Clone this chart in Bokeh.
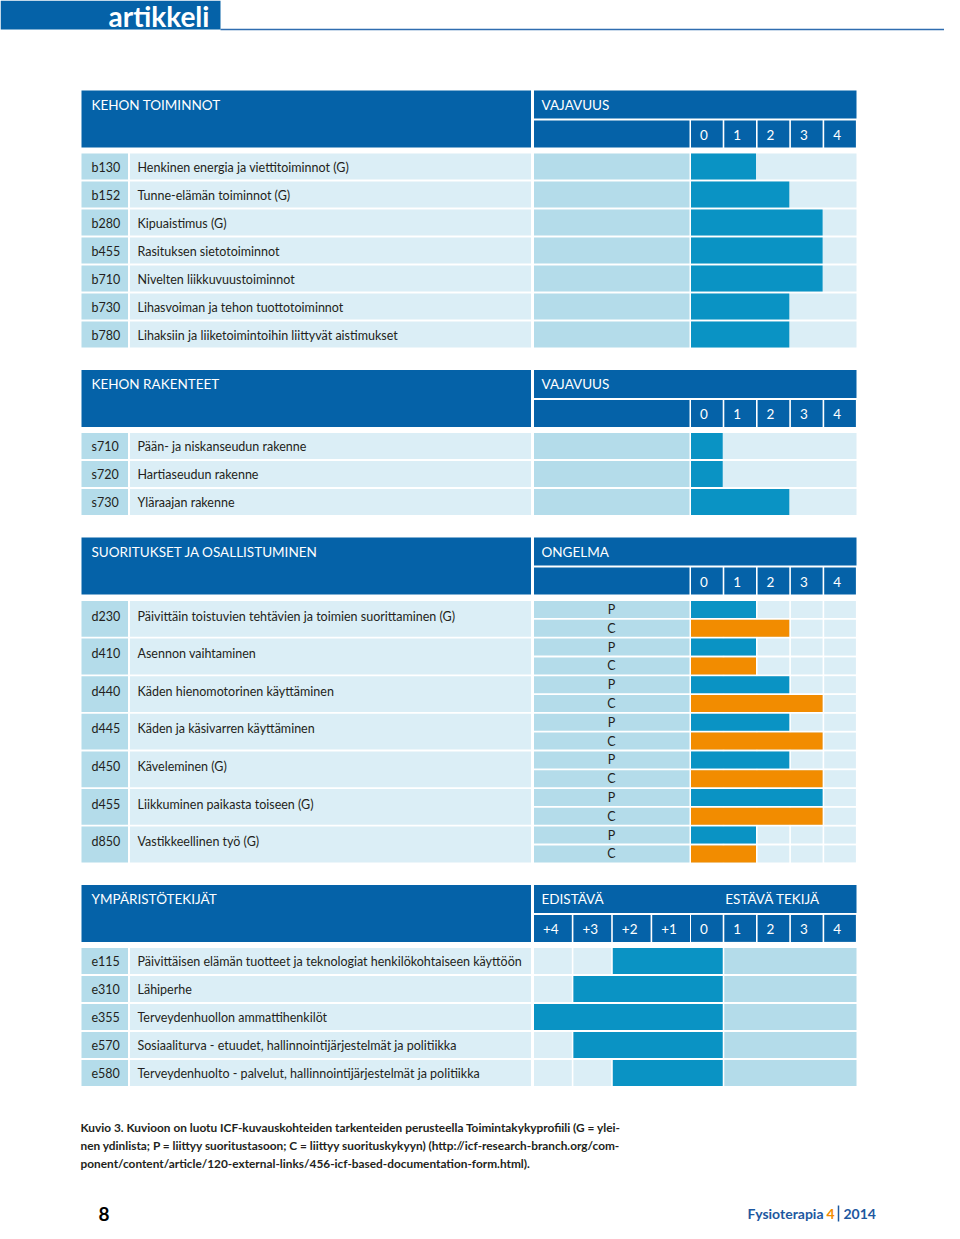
from bokeh.plotting import figure
from bokeh.models import Range1d
from bokeh.core.properties import value
from bokeh.embed import file_html
from bokeh.resources import INLINE

# ---------------- data ----------------
banner_title = "artikkeli"

body_title = "KEHON TOIMINNOT"
body_scale = "VAJAVUUS"
body_codes = ["b130", "b152", "b280", "b455", "b710", "b730", "b780"]
body_labels = [
    "Henkinen energia ja viettitoiminnot (G)",
    "Tunne-elämän toiminnot (G)",
    "Kipuaistimus (G)",
    "Rasituksen sietotoiminnot",
    "Nivelten liikkuvuustoiminnot",
    "Lihasvoiman ja tehon tuottotoiminnot",
    "Lihaksiin ja liiketoimintoihin liittyvät aistimukset",
]
body_values = [1, 2, 3, 3, 3, 2, 2]

struct_title = "KEHON RAKENTEET"
struct_scale = "VAJAVUUS"
struct_codes = ["s710", "s720", "s730"]
struct_labels = [
    "Pään- ja niskanseudun rakenne",
    "Hartiaseudun rakenne",
    "Yläraajan rakenne",
]
struct_values = [0, 0, 2]

act_title = "SUORITUKSET JA OSALLISTUMINEN"
act_scale = "ONGELMA"
act_codes = ["d230", "d410", "d440", "d445", "d450", "d455", "d850"]
act_labels = [
    "Päivittäin toistuvien tehtävien ja toimien suorittaminen (G)",
    "Asennon vaihtaminen",
    "Käden hienomotorinen käyttäminen",
    "Käden ja käsivarren käyttäminen",
    "Käveleminen (G)",
    "Liikkuminen paikasta toiseen (G)",
    "Vastikkeellinen työ (G)",
]
act_perf = [1, 1, 2, 2, 2, 3, 1]   # P
act_cap = [2, 1, 3, 3, 3, 3, 1]    # C
qualifier_letters = ["P", "C"]

env_title = "YMPÄRISTÖTEKIJÄT"
env_scale_left = "EDISTÄVÄ"
env_scale_right = "ESTÄVÄ TEKIJÄ"
env_codes = ["e115", "e310", "e355", "e570", "e580"]
env_labels = [
    "Päivittäisen elämän tuotteet ja teknologiat henkilökohtaiseen käyttöön",
    "Lähiperhe",
    "Terveydenhuollon ammattihenkilöt",
    "Sosiaaliturva - etuudet, hallinnointijärjestelmät ja politiikka",
    "Terveydenhuolto - palvelut, hallinnointijärjestelmät ja politiikka",
]
env_facilitator = [2, 3, 4, 3, 2]

severity_ticks = ["0", "1", "2", "3", "4"]
facilitator_ticks = ["+4", "+3", "+2", "+1"]

caption_lines = [
    "Kuvio 3. Kuvioon on luotu ICF-kuvauskohteiden tarkenteiden perusteella Toimintakykyprofiili (G = ylei-",
    "nen ydinlista; P = liittyy suoritustasoon; C = liittyy suorituskykyyn) (http://icf-research-branch.org/com-",
    "ponent/content/article/120-external-links/456-icf-based-documentation-form.html).",
]
page_number = "8"
journal = "Fysioterapia"
issue = "4"
year = "2014"

# ---------------- styles ----------------
DARK = "#0562a8"
BLUE = "#0a93c4"
ORANGE = "#f28c00"
MED = "#b4dcea"
LIGHT = "#dbeef6"
TXT = "#231f20"
NAVY = "#1d58a0"
FONT = "Lato"

X_CODE0, X_CODE1 = 81, 127.5
X_DESC0, X_DESC1 = 129.5, 530.5
X_MID0, X_MID1 = 533.5, 689
X_BAR0, X_END = 690.5, 856
CELL = 33.3
GAP = 1.6
PLUS = 39.4
ROW = 28
ROWH = 26
SUB = 18.8
SUBH = 17

p = figure(width=944, height=1223, x_range=Range1d(0, 944), y_range=Range1d(1223, 0),
           output_backend="svg", toolbar_location=None, min_border=0,
           x_axis_type=None, y_axis_type=None)
p.grid.visible = False
p.outline_line_color = None
p.background_fill_color = "white"
p.border_fill_color = "white"

rects = {}


def rect(l, r, t, b, color):
    d = rects.setdefault(color, {"left": [], "right": [], "top": [], "bottom": []})
    d["left"].append(l)
    d["right"].append(r)
    d["top"].append(t)
    d["bottom"].append(b)


texts = []


def txt(x, y, s, size="12.5px", color=TXT, style="normal", align="left", font=FONT):
    texts.append((x, y, s, size, color, style, align, font))


def header(top, title, scale_title, plus=False, right_title=None):
    rect(X_CODE0, X_DESC1, top, top + 57, DARK)
    rect(X_MID0, X_END, top, top + 28, DARK)
    txt(91, top + 14, title, "13.5px", "white")
    txt(541, top + 14, scale_title, "13.5px", "white")
    if right_title:
        txt(X_BAR0 + CELL + 1, top + 14, right_title, "13.5px", "white")
    if plus:
        for k, lab in enumerate(facilitator_ticks):
            l = X_MID0 + k * PLUS
            rect(l, l + PLUS - GAP, top + 30, top + 57, DARK)
            txt(l + 9, top + 44, lab, "13.5px", "white")
    else:
        rect(X_MID0, X_MID1, top + 30, top + 57, DARK)
    for k, lab in enumerate(severity_ticks):
        l = X_BAR0 + k * CELL
        rect(l, l + CELL - GAP, top + 30, top + 57, DARK)
        txt(l + 9, top + 44, lab, "13.5px", "white")


def left_cells(t, b, code, label, ytext):
    rect(X_CODE0, X_CODE1, t, b, MED)
    rect(X_DESC0, X_DESC1, t, b, LIGHT)
    txt(91, ytext, code)
    txt(137, ytext, label)


def severity_section(top, title, scale_title, codes, labels, vals):
    header(top, title, scale_title)
    y0 = top + 63
    for i, (c, lab, v) in enumerate(zip(codes, labels, vals)):
        t = y0 + i * ROW
        b = t + ROWH
        left_cells(t, b, c, lab, t + 13.5)
        rect(X_MID0, X_MID1, t, b, MED)
        rect(X_BAR0, X_END, t, b, LIGHT)
        rect(X_BAR0, X_BAR0 + (v + 1) * CELL - GAP, t, b, BLUE)
    return y0 + len(codes) * ROW - 2


def activity_section(top):
    header(top, act_title, act_scale)
    y0 = top + 63.5
    for i, (c, lab) in enumerate(zip(act_codes, act_labels)):
        t = y0 + i * 2 * SUB
        b = t + 2 * SUB - (SUB - SUBH)
        left_cells(t, b, c, lab, t + 15)
        for j, (letter, v, col) in enumerate(zip(qualifier_letters, [act_perf[i], act_cap[i]], [BLUE, ORANGE])):
            st = t + j * SUB
            sb = st + SUBH
            rect(X_MID0, X_MID1, st, sb, MED)
            txt(611, st + 8.5, letter, "12.5px", TXT, "normal", "center")
            for k in range(len(severity_ticks)):
                l = X_BAR0 + k * CELL
                rect(l, l + CELL - GAP, st, sb, LIGHT)
            rect(X_BAR0, X_BAR0 + (v + 1) * CELL - GAP, st, sb, col)
    return y0 + len(act_codes) * 2 * SUB - (SUB - SUBH)


def env_section(top):
    header(top, env_title, env_scale_left, plus=True, right_title=env_scale_right)
    y0 = top + 63
    for i, (c, lab, v) in enumerate(zip(env_codes, env_labels, env_facilitator)):
        t = y0 + i * ROW
        b = t + ROWH
        left_cells(t, b, c, lab, t + 13.5)
        for k in range(len(facilitator_ticks)):
            l = X_MID0 + k * PLUS
            rect(l, l + PLUS - GAP, t, b, LIGHT)
        rect(X_BAR0, X_BAR0 + CELL - GAP, t, b, LIGHT)
        rect(X_BAR0 + CELL, X_END, t, b, MED)
        left = X_MID0 + (len(facilitator_ticks) - v) * PLUS
        rect(left, X_BAR0 + CELL - GAP, t, b, BLUE)
    return y0 + len(env_codes) * ROW - 2


# banner
rect(0, 220, 0, 29, DARK)
p.line(x=[220, 944], y=[29, 29], line_color="#2f6db0", line_width=1.5)
txt(108, 15, banner_title, "28px", "white", "bold")

SECTION_GAP = 22.5
end = severity_section(90, body_title, body_scale, body_codes, body_labels, body_values)
end = severity_section(end + SECTION_GAP, struct_title, struct_scale, struct_codes, struct_labels, struct_values)
end = activity_section(end + SECTION_GAP)
end = env_section(end + SECTION_GAP)

# caption
cap_y = end + 42
for i, line in enumerate(caption_lines):
    txt(80, cap_y + i * 18, line, "11.85px", TXT, "bold")

# footer
FOOT_Y = 1213
txt(98, FOOT_Y, page_number, "19px", "black", "bold")
txt(823, FOOT_Y, journal, "14px", NAVY, "bold", "right")
txt(826, FOOT_Y, issue, "14px", ORANGE, "bold", "left")
p.line(x=[838, 838], y=[FOOT_Y - 8, FOOT_Y + 8], line_color=NAVY, line_width=1.5)
txt(843, FOOT_Y, year, "14px", NAVY, "bold", "left")

for col, d in rects.items():
    p.quad(left=d["left"], right=d["right"], top=d["top"], bottom=d["bottom"],
           fill_color=col, line_color=None)

groups = {}
for x, y, s, size, color, style, align, font in texts:
    key = (size, color, style, align, font)
    g = groups.setdefault(key, {"x": [], "y": [], "text": []})
    g["x"].append(x)
    g["y"].append(y)
    g["text"].append(s)
for (size, color, style, align, font), g in groups.items():
    p.text(x=g["x"], y=g["y"], text=g["text"], text_font=value(font), text_font_size=size,
           text_color=color, text_font_style=style, text_align=align, text_baseline="middle")

open("out.html", "w").write(file_html(p, INLINE))
